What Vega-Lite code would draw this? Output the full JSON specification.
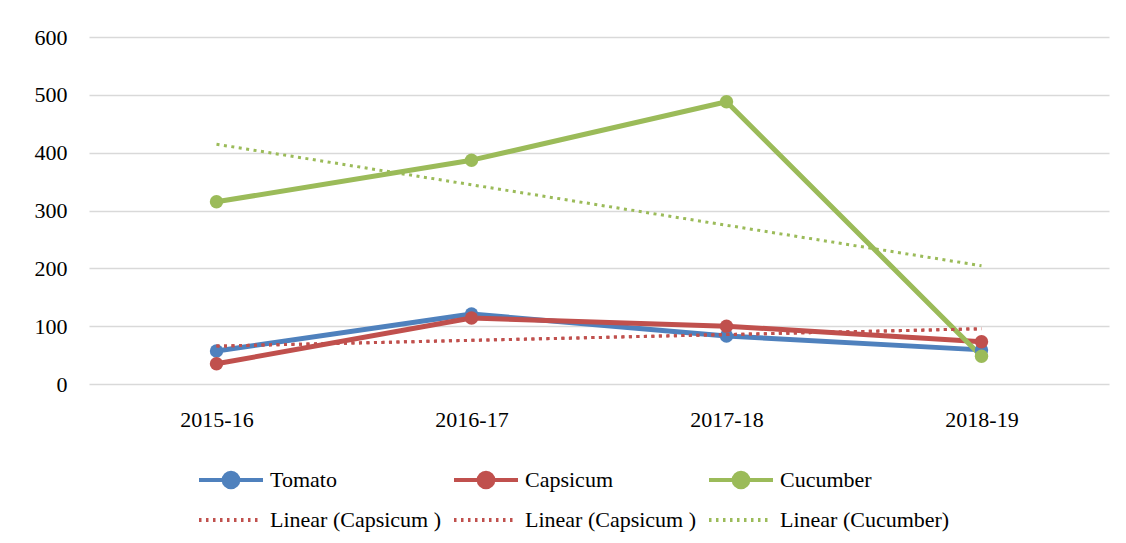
{
  "$schema": "https://vega.github.io/schema/vega-lite/v6.json",
  "width": 1020,
  "height": 347,
  "autosize": {"type": "none"},
  "padding": {"left": 89, "top": 37, "right": 17, "bottom": 159},
  "background": "white",
  "config": {
    "view": {"stroke": null},
    "font": "Times New Roman, Liberation Serif, serif",
    "axis": {"labelFont": "Times New Roman, Liberation Serif, serif", "labelFontSize": 22, "labelColor": "#000000", "domain": false, "ticks": false, "title": null}
  },
  "data": {"values": [
    {"year": "2015-16", "series": "Tomato", "kind": "data", "value": 57},
    {"year": "2016-17", "series": "Tomato", "kind": "data", "value": 121},
    {"year": "2017-18", "series": "Tomato", "kind": "data", "value": 83},
    {"year": "2018-19", "series": "Tomato", "kind": "data", "value": 59},
    {"year": "2015-16", "series": "Capsicum", "kind": "data", "value": 35},
    {"year": "2016-17", "series": "Capsicum", "kind": "data", "value": 114},
    {"year": "2017-18", "series": "Capsicum", "kind": "data", "value": 100},
    {"year": "2018-19", "series": "Capsicum", "kind": "data", "value": 73},
    {"year": "2015-16", "series": "Cucumber", "kind": "data", "value": 315},
    {"year": "2016-17", "series": "Cucumber", "kind": "data", "value": 387},
    {"year": "2017-18", "series": "Cucumber", "kind": "data", "value": 488},
    {"year": "2018-19", "series": "Cucumber", "kind": "data", "value": 48},
    {"year": "2015-16", "series": "LC1", "kind": "trend", "value": 65.5},
    {"year": "2016-17", "series": "LC1", "kind": "trend", "value": 75.5},
    {"year": "2017-18", "series": "LC1", "kind": "trend", "value": 85.5},
    {"year": "2018-19", "series": "LC1", "kind": "trend", "value": 95.5},
    {"year": "2015-16", "series": "LC2", "kind": "trend", "value": 65.5},
    {"year": "2016-17", "series": "LC2", "kind": "trend", "value": 75.5},
    {"year": "2017-18", "series": "LC2", "kind": "trend", "value": 85.5},
    {"year": "2018-19", "series": "LC2", "kind": "trend", "value": 95.5},
    {"year": "2015-16", "series": "LU", "kind": "trend", "value": 414.5},
    {"year": "2016-17", "series": "LU", "kind": "trend", "value": 344.5},
    {"year": "2017-18", "series": "LU", "kind": "trend", "value": 274.5},
    {"year": "2018-19", "series": "LU", "kind": "trend", "value": 204.5}
  ]},
  "encoding": {
    "x": {"field": "year", "type": "ordinal", "scale": {"type": "point", "padding": 0.5},
      "axis": {"labelAngle": 0, "labelPadding": 25, "grid": false}},
    "y": {"field": "value", "type": "quantitative", "scale": {"domain": [0, 600], "nice": false},
      "axis": {"values": [0, 100, 200, 300, 400, 500, 600], "labelPadding": 22, "grid": true, "gridColor": "#d9d9d9", "gridWidth": 1.5}},
    "color": {"field": "series", "type": "nominal",
      "scale": {"domain": ["Tomato", "Capsicum", "Cucumber", "LC1", "LC2", "LU"],
                "range": ["#4F81BD", "#C0504D", "#9BBB59", "#C0504D", "#C0504D", "#9BBB59"]},
      "legend": {
        "orient": "none", "legendX": 108, "legendY": 432, "padding": 0,
        "direction": "horizontal", "columns": 3, "title": null,
        "labelFont": "Times New Roman, Liberation Serif, serif", "labelFontSize": 22, "labelColor": "#000000", "labelLimit": 400,
        "labelOffset": 5, "columnPadding": 10, "rowPadding": 18, "clipHeight": 22,
        "symbolSize": 4096, "symbolStrokeWidth": 4, "symbolOpacity": 1,
        "labelExpr": "datum.value === 'LC1' || datum.value === 'LC2' ? 'Linear (Capsicum )' : datum.value === 'LU' ? 'Linear (Cucumber)' : datum.value",
        "encode": {"symbols": {"update": {
          "shape": {"signal": "indexof(['Tomato','Capsicum','Cucumber'], datum.value) >= 0 ? 'M-1,0L1,0M-0.23,0A0.23,0.23,0,1,1,0.23,0A0.23,0.23,0,1,1,-0.23,0' : 'M-1,0L0.85,0'"},
          "fill": {"signal": "indexof(['Tomato','Capsicum','Cucumber'], datum.value) >= 0 ? scale('color', datum.value) : 'transparent'"},
          "stroke": {"signal": "scale('color', datum.value)"},
          "strokeDash": {"signal": "indexof(['Tomato','Capsicum','Cucumber'], datum.value) >= 0 ? [] : [2.5, 4.5]"},
          "opacity": {"value": 1}
        }}}
      }}
  },
  "layer": [
    {
      "transform": [{"filter": "datum.kind === 'data'"}],
      "mark": {"type": "line", "strokeWidth": 5, "strokeCap": "round", "strokeJoin": "round"}
    },
    {
      "transform": [{"filter": "datum.kind === 'data'"}],
      "mark": {"type": "point", "filled": true, "size": 180, "opacity": 1}
    },
    {
      "transform": [{"filter": "datum.kind === 'trend'"}],
      "mark": {"type": "line", "strokeWidth": 3, "strokeDash": [3, 4.5]}
    }
  ]
}
